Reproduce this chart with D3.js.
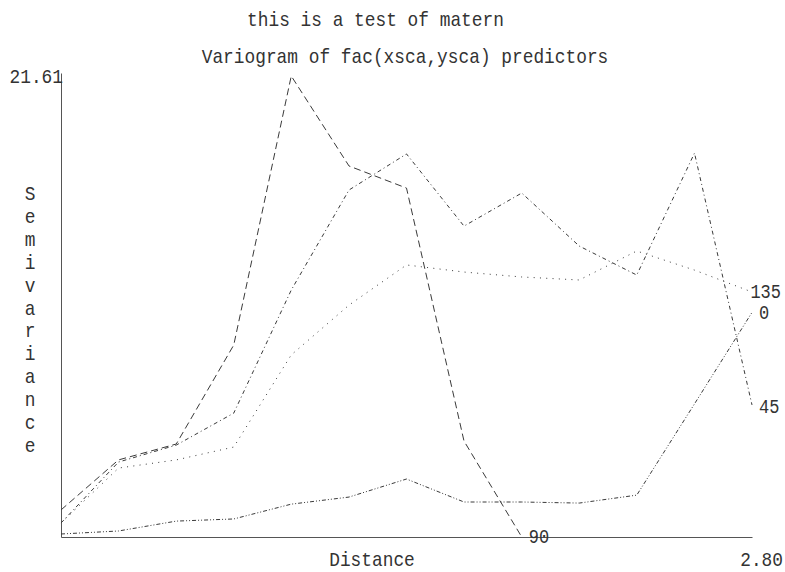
<!DOCTYPE html>
<html>
<head>
<meta charset="utf-8">
<script src="https://cdn.jsdelivr.net/npm/d3@7/dist/d3.min.js"></script>
<style>
  html, body { margin: 0; padding: 0; background: #fff; }
  svg { display: block; }
</style>
</head>
<body>
<svg id="chart" width="785" height="572"></svg>
<script>
// ---- data ----
const titleLines = ["this is a test of matern", "Variogram of fac(xsca,ysca) predictors"];
const xLabel = "Distance";
const yLabel = "Semivariance";
const yMaxLabel = "21.61";
const xMaxLabel = "2.80";
const distances = [0, 0.233, 0.467, 0.7, 0.933, 1.167, 1.4, 1.633, 1.867, 2.1, 2.333, 2.567, 2.8];
const seriesNames = ["90", "45", "135", "0"];
const gamma90  = [1.26, 3.59, 4.33, 8.94, 21.47, 17.28, 16.25, 4.47, 0.0];
const gamma45  = [0.65, 3.49, 4.28, 5.77, 11.50, 16.16, 17.84, 14.48, 16.02, 13.55, 12.20, 17.88, 6.15];
const gamma135 = [0.65, 3.21, 3.59, 4.19, 8.48, 10.80, 12.67, 12.34, 12.11, 11.97, 13.32, 12.43, 11.41];
const gamma0   = [0.14, 0.28, 0.74, 0.84, 1.53, 1.86, 2.70, 1.63, 1.63, 1.58, 1.95, 6.20, 10.46];
const yMax = 21.61, xMax = 2.8;

(function () {
// ---- layout ----
const svg = d3.select("#chart");
const mL = 61, mR = 752, mT = 73, mB = 537;
const x = d3.scaleLinear().domain([0, xMax]).range([mL, mR]);
const y = d3.scaleLinear().domain([0, yMax]).range([mB, mT]);
const FONT = "'Liberation Mono', 'Courier New', monospace";
const FS = 21, SX = 0.85;
const txtCol = "#333";

function txt(str, tx, ty, anchor, fs) {
  return svg.append("text")
    .attr("transform", `translate(${tx},${ty}) scale(${SX},1)`)
    .attr("font-family", FONT).attr("font-size", fs || FS)
    .attr("fill", txtCol)
    .attr("text-anchor", anchor || "start")
    .text(str);
}

// titles
txt(titleLines[0], 375.5, 26, "middle");
txt(titleLines[1], 405, 63, "middle");

// axes
const axCol = "#555";
svg.append("g").attr("transform", `translate(0,${mB})`)
  .call(d3.axisBottom(x).tickValues([]).tickSize(0).tickSizeOuter(0))
  .call(g => g.select(".domain").attr("stroke", axCol));
svg.append("g").attr("transform", `translate(${mL},0)`)
  .call(d3.axisLeft(y).tickValues([]).tickSize(0).tickSizeOuter(0))
  .call(g => g.select(".domain").attr("stroke", axCol));

txt(yMaxLabel, 63, 83, "end");
txt(xMaxLabel, 783, 566, "end");
txt(xLabel, 372, 566, "middle");
yLabel.split("").forEach((c, i) => txt(c, 30, 200 + i * 22.9, "middle"));

// series
const series = [
  { name: seriesNames[0], vals: gamma90,  dash: "7,4",         dy: 6 },
  { name: seriesNames[1], vals: gamma45,  dash: "4,3,1,3",     dy: 8 },
  { name: seriesNames[2], vals: gamma135, dash: "1,5.3",       dy: 6 },
  { name: seriesNames[3], vals: gamma0,   dash: "4,2,1,2,1,2", dy: 7 }
];
const line = d3.line().x((d, i) => x(distances[i])).y(d => y(d));
series.forEach(s => {
  svg.append("path").datum(s.vals)
    .attr("d", line)
    .attr("fill", "none")
    .attr("stroke", "#3a3a3a")
    .attr("stroke-width", 1)
    .attr("stroke-dasharray", s.dash);
  const n = s.vals.length - 1;
  const ex = x(distances[n]), ey = y(s.vals[n]);
  const t = txt(s.name, 0, 0, "start", 20);
  const w = t.node().getComputedTextLength() * SX;
  let tx = ex + 7;
  if (tx + w > 781) tx = 781 - w;
  t.attr("transform", `translate(${tx},${ey + s.dy}) scale(${SX},1)`);
});
})();
</script>
</body>
</html>
